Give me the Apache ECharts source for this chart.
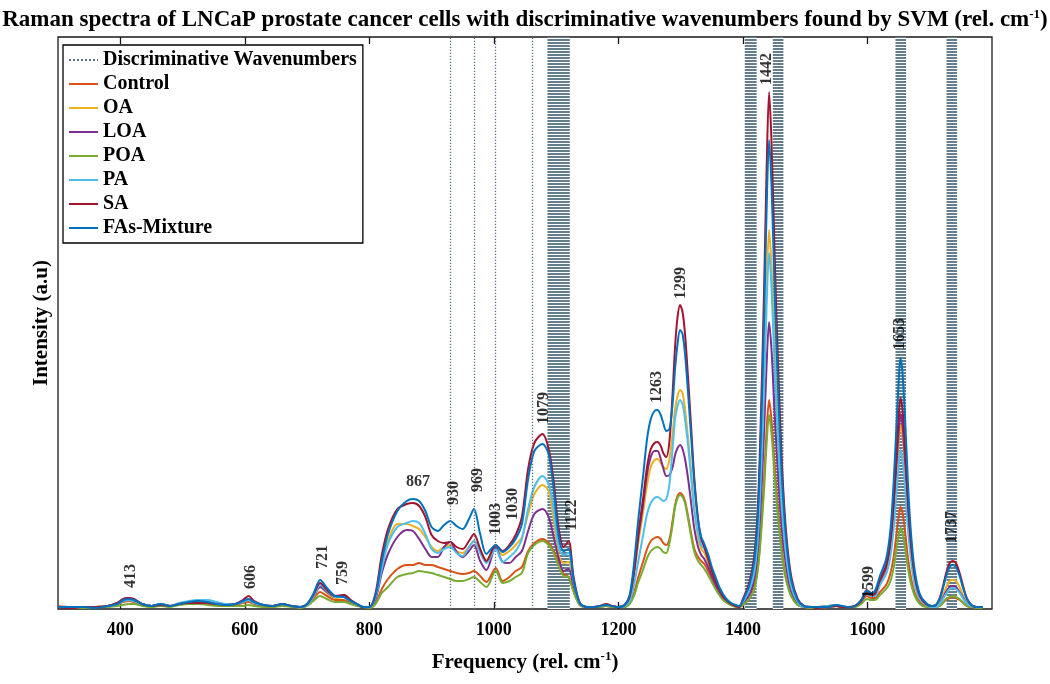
<!DOCTYPE html>
<html>
<head>
<meta charset="utf-8">
<script src="https://cdn.jsdelivr.net/npm/echarts@6/dist/echarts.min.js"></script>
<style>
html,body{margin:0;padding:0;background:#fff;}
#chart{width:1050px;height:684px;}
</style>
</head>
<body>
<div id="chart"></div>
<script>
// ---------------- DATA ----------------
const wavenumbers = [
  300,320,340,360,380,395,405,413,422,435,450,465,480,495,510,525,540,555,570,585,597,606,615,630,645,660,675,690,700,710,721,732,745,759,770,780,790,800,
  810,820,830,845,860,870,880,890,900,910,920,930,940,950,960,968,978,988,1003,1014,1025,1035,1045,1055,1065,1078,1088,1096,1104,1112,1120,1128,1138,1150,
  1160,1170,1180,1190,1200,1210,1218,1225,1232,1240,1246,1252,1258,1263,1268,1272,1277,1282,1287,1291,1295,1299,1303,1307,1312,1317,1322,1328,1333,1338,1344,1350,1356,1362,1368,1375,1381,1388,1394,
  1400,1410,1418,1424,1429,1434,1438,1442,1446,1451,1457,1463,1470,1478,1488,1498,1510,1520,1535,1550,1560,1570,1580,
  1590,1599,1606,1612,1620,1630,1637,1642,1646,1650,1653,1656,1660,1665,1670,1676,1684,1694,1703,1710,1716,1721,1726,1732,1737,1742,1748,1754,1760,1767,1775,1785
];

const control = [
  3,2,2,2,3,5,7,8,7,4,3,4,3,5,6,6,5,4,4,4,6,7,5,3,3,4,3,2,4,10,17,13,9,9,6,4,2,2,
  6,20,30,40,44,44,46,44,44,42,40,38,36,35,36,38,33,27,41,28,32,38,42,58,66,70,66,58,47,35,32,18,4,2,
  2,2,3,2,2,2,6,16,32,48,60,68,71,72,70,66,64,70,88,104,113,116,114,108,92,75,60,52,48,45,38,30,22,15,10,6,4,3,2,
  4,10,21,42,79,130,178,209,188,142,94,56,29,13,4,2,1,2,3,4,2,2,3,
  7,13,11,11,17,24,36,52,72,92,102,97,80,51,31,16,7,3,2,2,3,6,9,11,12,11,9,6,3,2,2,1
];
const oa = [
  2,2,1,2,3,5,9,10,9,5,3,5,3,6,7,8,7,5,4,5,7,9,6,4,3,5,3,2,4,12,22,16,11,12,8,5,2,2,
  12,42,68,85,85,83,80,72,62,58,62,64,58,56,62,68,58,49,62,54,58,64,72,95,115,124,118,90,54,46,47,25,5,2,
  2,3,4,3,2,3,10,33,66,98,124,142,149,150,146,142,140,150,175,200,213,219,216,200,170,135,100,72,60,56,47,36,27,19,12,8,5,3,2,
  8,19,38,76,144,235,322,379,341,258,171,102,53,23,8,2,2,1,2,3,2,2,3,
  8,15,13,14,26,39,60,93,130,166,184,175,144,92,55,28,11,4,2,3,6,13,21,28,29,28,22,13,6,3,2,2
];
const loa = [
  2,1,2,2,3,6,10,11,9,5,3,5,3,5,6,7,6,5,4,5,7,9,6,3,3,4,3,2,4,12,22,17,12,14,9,5,2,2,
  10,36,55,72,79,78,70,60,52,52,62,67,57,52,58,64,48,39,62,47,46,52,58,78,95,100,92,72,51,38,40,22,5,2,
  2,3,4,3,2,4,12,36,72,106,135,152,158,158,150,141,133,134,142,154,161,164,160,150,130,105,80,62,54,50,42,33,24,17,11,7,5,3,2,
  6,14,29,57,109,178,244,287,258,195,129,77,40,17,6,2,2,1,2,3,2,2,3,
  9,19,16,16,28,41,64,98,137,176,195,185,152,98,59,30,12,4,2,2,5,11,17,22,23,22,17,11,5,3,2,2
];
const poa = [
  2,2,1,2,2,3,4,5,5,3,2,3,2,4,5,5,4,3,3,3,3,4,3,2,2,3,2,1,3,8,13,10,7,7,5,3,2,1,
  5,16,22,32,35,36,38,37,36,34,32,30,28,28,30,32,27,22,38,26,28,32,36,56,64,68,64,56,43,33,32,17,4,2,
  2,2,3,2,2,2,5,13,27,40,51,58,61,62,60,57,56,66,84,102,111,114,112,106,90,72,57,48,44,40,34,27,20,14,9,6,4,2,2,
  4,10,19,39,74,120,165,194,175,132,87,52,27,12,4,2,1,1,2,3,2,2,2,
  5,10,9,9,14,20,28,41,57,73,81,77,63,41,25,13,5,2,2,2,3,6,10,12,13,12,10,6,3,2,1,1
];
const pa = [
  2,2,2,2,3,5,8,9,8,5,3,5,3,6,8,9,9,7,5,5,7,9,6,4,3,5,3,2,4,12,24,18,12,12,8,5,2,2,
  12,40,65,82,86,88,86,75,60,56,60,62,56,53,62,68,56,46,60,47,52,58,70,100,122,133,125,100,62,54,56,28,5,2,
  2,3,4,3,2,3,8,24,48,75,95,106,111,112,110,108,110,125,160,190,203,209,205,190,163,130,98,75,64,60,50,40,30,21,14,9,6,4,2,
  7,18,36,71,135,221,303,356,320,242,160,96,50,21,7,2,2,2,3,4,3,2,3,
  8,15,13,13,24,35,53,80,112,143,159,151,124,80,48,24,10,4,2,2,5,10,15,20,21,20,16,10,5,3,2,2
];
const sa = [
  2,1,2,2,3,6,10,11,10,5,3,4,3,5,6,6,6,5,4,5,9,13,8,4,3,5,3,2,5,14,26,19,13,14,9,5,2,2,
  16,54,80,100,105,106,103,92,74,68,66,67,62,60,68,75,60,48,64,58,64,74,92,140,166,175,160,128,81,62,68,32,6,2,
  2,3,5,3,2,4,12,38,76,112,142,160,166,167,163,156,152,168,215,262,292,304,297,275,230,180,130,90,70,62,50,38,28,20,13,8,5,3,2,
  10,26,52,103,196,320,439,517,465,352,233,140,72,31,10,3,2,1,2,3,2,2,3,
  8,16,14,15,29,44,69,107,149,191,211,201,166,107,64,33,13,5,3,4,11,22,35,46,48,46,36,22,10,4,2,2
];
const mixture = [
  2,2,2,1,3,5,9,10,9,5,3,5,3,5,7,8,7,5,4,5,8,10,7,4,3,5,3,2,5,15,29,21,13,12,8,5,2,2,
  14,48,75,98,108,110,108,98,82,78,84,88,83,80,90,100,75,55,64,57,62,70,85,130,158,165,155,120,73,58,60,30,6,2,
  2,3,4,3,2,4,14,45,90,135,170,190,198,199,194,186,178,180,205,240,265,279,275,255,215,170,125,88,72,65,55,42,32,22,15,9,6,4,3,
  9,23,47,94,178,291,399,469,422,319,211,127,66,28,9,3,2,2,2,4,3,2,3,
  9,18,16,18,33,50,80,126,176,226,251,238,196,126,75,38,15,6,3,4,10,20,32,42,44,42,33,20,10,4,2,2
];

const seriesNames = ['Control','OA','LOA','POA','PA','SA','FAs-Mixture'];
const seriesValues = [control, oa, loa, poa, pa, sa, mixture];

const discriminativeLines = [930, 969, 1003, 1061];
const discriminativeBands = [[1086,1122],[1403,1422],[1448,1465],[1645,1662],[1727,1744]];

const peakLabels = ['413','606','721','759','867','930','969','1003','1030','1079','1122','1263','1299','1442','1599','1653','1737'];
const peakLabelX = [417,610,725,757,878,935,974,1004,1031,1080,1126,1262,1300,1439,1602,1652,1736];
const peakLabelY = [33,32,52,36,127,116,129,90,105,201,94,222,326,540,27,275,82];

const xTickValues = [400,600,800,1000,1200,1400,1600];
const xRange = [300, 1800];
const yRange = [0, 572];

// ---------------- STYLE ----------------
const FONT = '"Liberation Serif","Times New Roman",serif';
const colors = ['#D95319','#EDB120','#7E2F8E','#77AC30','#4DBEEE','#A2142F','#0072BD'];
const discColor = '#557386';

function stripes(){
  const c = document.createElement('canvas');
  c.width = 4; c.height = 3;
  const g = c.getContext('2d');
  g.fillStyle = '#ffffff'; g.fillRect(0,0,4,3);
  g.fillStyle = '#647e8e'; g.fillRect(0,0,4,2);
  return c;
}

const chart = echarts.init(document.getElementById('chart'), null, {renderer:'canvas'});

const supStyle = {fontSize: 13, fontWeight: 'bold', fontFamily: FONT, color:'#000', verticalAlign:'top', padding:[0,0,12,0]};

const series = [];
series.push({
  name: 'Discriminative Wavenumbers',
  type: 'line',
  data: [],
  symbol: 'none',
  z: 1,
  lineStyle: {color: discColor, width: 1.5, type: 'dotted'},
  itemStyle: {color: discColor},
  markLine: {
    silent: true, symbol: 'none', animation: false,
    label: {show: false},
    lineStyle: {color: discColor, width: 1.3, type: [1.3, 1.7]},
    data: discriminativeLines.map(v => ({xAxis: v}))
  },
  markArea: {
    silent: true, animation: false,
    itemStyle: {color: {image: stripes(), repeat: 'repeat'}},
    data: discriminativeBands.map(b => [{xAxis: b[0]}, {xAxis: b[1]}])
  }
});
seriesNames.forEach((n, k) => {
  series.push({
    name: n, type: 'line', z: 3,
    data: wavenumbers.map((x, i) => [x, seriesValues[k][i]]),
    symbol: 'none', showSymbol: false, smooth: 0.3,
    lineStyle: {color: colors[k], width: 2},
    itemStyle: {color: colors[k]}
  });
});
series.push({
  type: 'scatter', z: 10, zlevel: 1, silent: true, symbolSize: 0,
  data: peakLabels.map((t, i) => ({
    value: [peakLabelX[i], peakLabelY[i]],
    label: {rotate: t === '867' ? 0 : 90}
  })),
  label: {
    show: true, position: 'inside',
    formatter: p => peakLabels[p.dataIndex],
    fontFamily: FONT, fontWeight: 'bold', fontSize: 16, color: '#000'
  }
});

chart.setOption({
  animation: false,
  backgroundColor: '#fff',
  title: {
    text: 'Raman spectra of LNCaP prostate cancer cells with discriminative wavenumbers found by SVM (rel. cm{sup|-1})',
    left: 'center', top: 3,
    textStyle: {fontFamily: FONT, fontWeight: 'bold', fontSize: 23, color: '#000', rich: {sup: supStyle}}
  },
  legend: {
    orient: 'vertical', left: 63, top: 45,
    padding: [5, 6, 5, 5],
    backgroundColor: '#fff', borderColor: '#000', borderWidth: 1.3,
    itemWidth: 29, itemHeight: 14, itemGap: 4,
    itemStyle: {opacity: 0},
    textStyle: {fontFamily: FONT, fontWeight: 'bold', fontSize: 20, color: '#000', lineHeight: 20},
    data: ['Discriminative Wavenumbers'].concat(seriesNames)
  },
  grid: {left: 58, right: 58, top: 37, bottom: 75, show: true, borderColor: '#1a1a1a', borderWidth: 1.3, backgroundColor: 'transparent'},
  xAxis: [{
    type: 'value', position: 'bottom', min: xRange[0], max: xRange[1], interval: 100,
    axisLine: {show: false}, splitLine: {show: false},
    axisTick: {show: true, inside: true, length: 7, customValues: xTickValues, lineStyle: {color: '#1a1a1a', width: 1.3}},
    axisLabel: {
      customValues: xTickValues, margin: 12,
      fontFamily: FONT, fontWeight: 'bold', fontSize: 18, color: '#000',
      formatter: v => (xTickValues.indexOf(v) >= 0 ? String(v) : '')
    },
    name: 'Frequency (rel. cm{sup|-1})', nameLocation: 'middle', nameGap: 41,
    nameTextStyle: {fontFamily: FONT, fontWeight: 'bold', fontSize: 21, color: '#000', rich: {sup: supStyle}}
  }, {
    type: 'value', position: 'top', min: xRange[0], max: xRange[1], interval: 100,
    axisLine: {show: false}, splitLine: {show: false},
    axisTick: {show: true, inside: true, length: 7, customValues: xTickValues, lineStyle: {color: '#1a1a1a', width: 1.3}},
    axisLabel: {show: false}
  }],
  yAxis: {
    type: 'value', min: yRange[0], max: yRange[1],
    axisLine: {show: false}, axisTick: {show: false}, axisLabel: {show: false}, splitLine: {show: false},
    name: 'Intensity (a.u)', nameLocation: 'middle', nameGap: 6,
    nameTextStyle: {fontFamily: FONT, fontWeight: 'bold', fontSize: 21, color: '#000'}
  },
  series: series
});
</script>
</body>
</html>
